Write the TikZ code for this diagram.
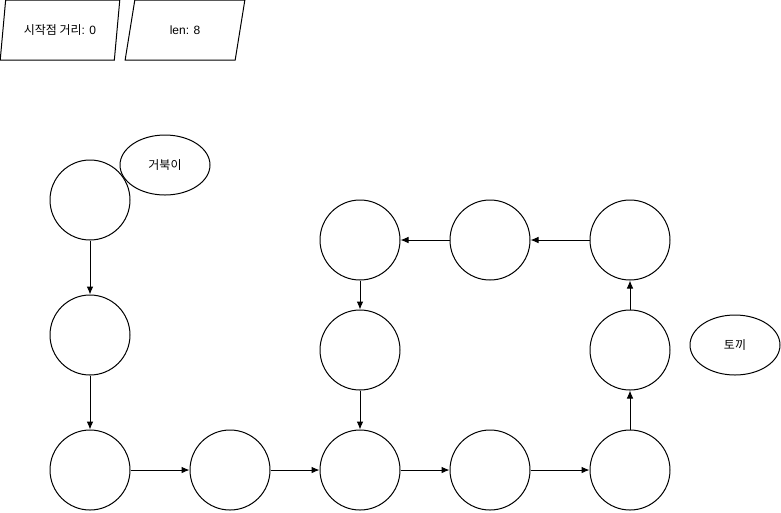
\documentclass[tikz,border=0pt]{standalone}
\usepackage{fontspec}
\setmainfont{Liberation Sans}
\newfontfamily\kr{Noto Sans CJK KR}
\usetikzlibrary{shapes.geometric, arrows.meta}
\tikzset{
  cell/.style={draw, circle, minimum size=60pt, inner sep=0},
  tag/.style={draw, ellipse, minimum width=67.5pt, minimum height=45pt, inner sep=0, font=\kr\fontsize{9}{11}\selectfont},
  info/.style={draw, trapezium, trapezium left angle=71.57, trapezium right angle=108.43, trapezium stretches=true, minimum width=90pt, minimum height=45pt, inner sep=0, font=\fontsize{9}{11}\selectfont},
  go/.style={-{Latex[length=6pt, width=5pt]}}
}

\begin{document}
\begin{tikzpicture}[x=0.75pt, y=-0.75pt, line width=0.75pt]
     \useasboundingbox (0, 0) rectangle (781, 512);

     \node [info] (dist) at (60, 30) {{\kr 시작점 거리}: 0};
     \node [info] (len) at (185, 30) {len: 8};

     \node [cell] (a1) at (90, 200) {};
     \node [cell] (a2) at (90, 335) {};
     \node [cell] (b1) at (90, 470) {};
     \node [cell] (b2) at (230, 470) {};
     \node [cell] (b3) at (360, 470) {};
     \node [cell] (b4) at (490, 470) {};
     \node [cell] (b5) at (630, 470) {};
     \node [cell] (m5) at (630, 350) {};
     \node [cell] (t5) at (630, 240) {};
     \node [cell] (t4) at (490, 240) {};
     \node [cell] (t3) at (360, 240) {};
     \node [cell] (m3) at (360, 350) {};

     \node [tag] (turtle) at (165, 165) {거북이};
     \node [tag] (rabbit) at (735, 345) {토끼};

     \draw [go] (a1) -- (a2);
     \draw [go] (a2) -- (b1);
     \draw [go] (b1) -- (b2);
     \draw [go] (b2) -- (b3);
     \draw [go] (b3) -- (b4);
     \draw [go] (b4) -- (b5);
     \draw [go] (b5) -- (m5);
     \draw [go] (m5) -- (t5);
     \draw [go] (t5) -- (t4);
     \draw [go] (t4) -- (t3);
     \draw [go] (t3) -- (m3);
     \draw [go] (m3) -- (b3);
\end{tikzpicture}
\end{document}
